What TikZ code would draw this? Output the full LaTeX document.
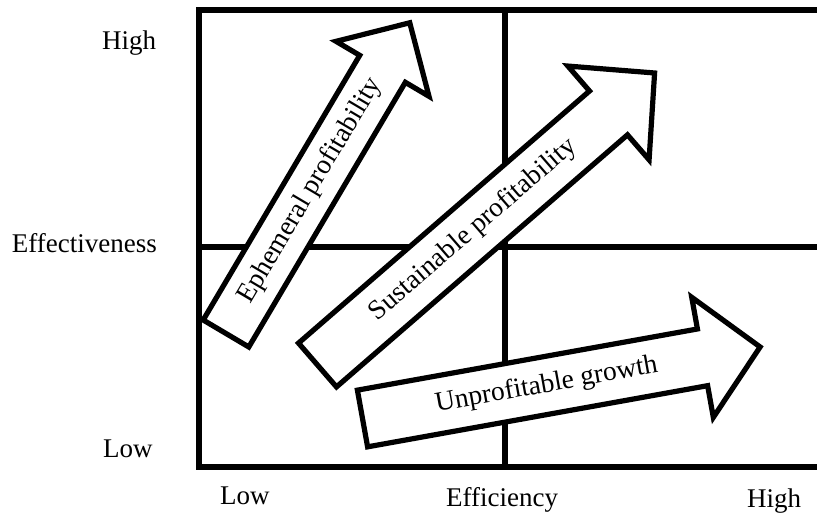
\documentclass[tikz,border=0pt]{standalone}
\usepackage{fontspec}
\setmainfont{Liberation Serif}
\begin{document}
\begin{tikzpicture}[x=1pt,y=1pt,
  gridline/.style={line width=5.2pt, line join=miter},
  bigarrow/.style={draw, fill=white, line width=5.2pt, line join=miter},
  lbl/.style={font=\fontsize{27}{31}\selectfont, inner sep=0pt},
  atext/.style={font=\fontsize{27.5}{31}\selectfont, inner sep=0pt}]
\useasboundingbox (0,0) rectangle (817,514);
% grid
\coordinate (topR) at (830,504);
\coordinate (topL) at (199,504);
\coordinate (botL) at (199,47);
\coordinate (botR) at (830,47);
\coordinate (midL) at (199,267);
\coordinate (midR) at (830,267);
\coordinate (midT) at (505,504);
\coordinate (midB) at (505,47);
\draw[gridline] (topR) -- (topL) -- (botL) -- (botR);
\draw[gridline] (midL) -- (midR);
\draw[gridline] (midT) -- (midB);
% axis labels
\node[lbl, anchor=base west] (yhigh) at (102,464) {High};
\node[lbl, anchor=base east] (yname) at (157,261) {Effectiveness};
\node[lbl, anchor=base west] (ylow) at (103,56) {Low};
\node[lbl, anchor=base west] (xlow) at (220,9) {Low};
\node[lbl, anchor=base] (xname) at (502,7) {Efficiency};
\node[lbl, anchor=base west] (xhigh) at (747,6) {High};
% arrow 1: Ephemeral profitability
\begin{scope}[shift={(226,180.5)}, rotate=59.4]
\draw[bigarrow] (0,-26.5) -- (307.5,-26.5) -- (307.5,-54) -- (361,0) -- (307.5,54) -- (307.5,26.5) -- (0,26.5) -- cycle;
\node[atext, rotate=59.4] (ephem) at (166,0) {Ephemeral profitability};
\end{scope}
% arrow 2: Sustainable profitability
\begin{scope}[shift={(317.5,149)}, rotate=40.9]
\draw[bigarrow] (0,-29) -- (385,-29) -- (385,-62) -- (446,0) -- (385,62) -- (385,29) -- (0,29) -- cycle;
\node[atext, rotate=40.9] (sustain) at (206,0) {Sustainable profitability};
\end{scope}
% arrow 3: Unprofitable growth
\begin{scope}[shift={(362.5,95.5)}, rotate=10.2]
\draw[bigarrow] (0,-28.8) -- (345.5,-28.8) -- (345.5,-61) -- (404,0) -- (345.5,61) -- (345.5,28.8) -- (0,28.8) -- cycle;
\node[atext, rotate=10.2] (unprof) at (187,0) {Unprofitable growth};
\end{scope}
\end{tikzpicture}
\end{document}
